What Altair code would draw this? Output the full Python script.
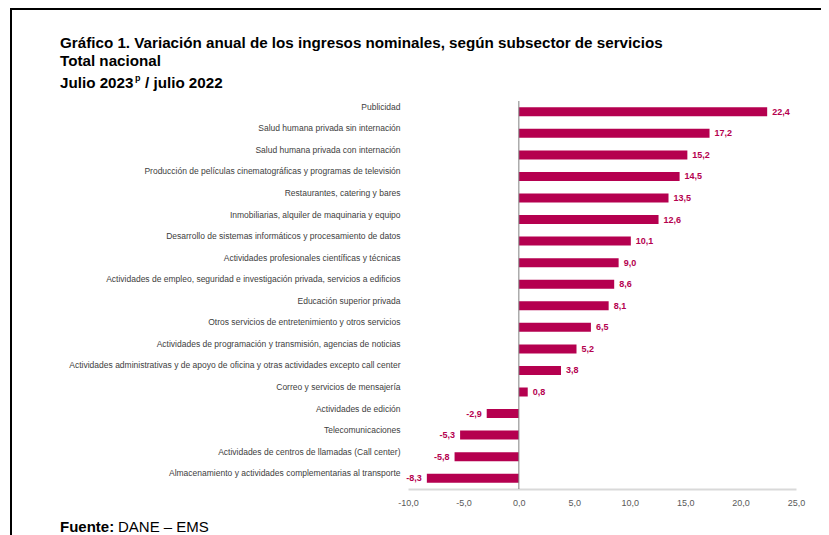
import altair as alt
import pandas as pd

categories = [
    "Publicidad",
    "Salud humana privada sin internación",
    "Salud humana privada con internación",
    "Producción de películas cinematográficas y programas de televisión",
    "Restaurantes, catering y bares",
    "Inmobiliarias, alquiler de maquinaria y equipo",
    "Desarrollo de sistemas informáticos y procesamiento de datos",
    "Actividades profesionales científicas y técnicas ",
    "Actividades de empleo, seguridad e investigación privada, servicios a edificios",
    "Educación superior privada",
    "Otros servicios de entretenimiento y otros servicios",
    "Actividades de programación y transmisión,  agencias de noticias",
    "Actividades administrativas y de apoyo de oficina y otras actividades excepto call center",
    "Correo y servicios de mensajería",
    "Actividades de edición",
    "Telecomunicaciones",
    "Actividades de centros de llamadas (Call center)",
    "Almacenamiento y actividades complementarias al transporte",
]
values = [22.4, 17.2, 15.2, 14.5, 13.5, 12.6, 10.1, 9.0, 8.6, 8.1, 6.5, 5.2, 3.8, 0.8, -2.9, -5.3, -5.8, -8.3]
x_ticks = [-10, -5, 0, 5, 10, 15, 20, 25]

title_lines = [
    "Gráfico 1. Variación anual de los ingresos nominales, según subsector de servicios",
    "Total nacional",
]
title_line3 = "Julio 2023"
title_sup = "p"
title_line3b = "/ julio 2022"
source_bold = "Fuente:"
source_rest = "DANE – EMS"

BAR = "#B5004F"
TITLE_FONT = "'Liberation Sans', sans-serif"
LABEL_FONT = "'Liberation Sans', sans-serif"

W, H = 388, 388

df = pd.DataFrame({"cat": categories, "val": values})
df["lbl"] = df["val"].map(lambda v: f"{v:.1f}".replace(".", ","))

ysc = alt.Y(
    "cat:N",
    sort=categories,
    title=None,
    axis=alt.Axis(
        domain=False, ticks=False, labelPadding=8, labelFontSize=8.5, labelOffset=-5,
        labelColor="#404040", labelFont=LABEL_FONT, labelLimit=400,
    ),
)
xsc = alt.X(
    "val:Q",
    title=None,
    scale=alt.Scale(domain=[-10, 25], nice=False),
    axis=alt.Axis(
        values=x_ticks, grid=False, ticks=False, labelFlush=False,
        labelExpr="replace(replace(format(datum.value, '.1f'), '.', ','), '\u2212', '-')",
        domainColor="#D9D9D9", domainWidth=2, labelColor="#595959",
        labelFontSize=9, labelPadding=9, labelFont=LABEL_FONT,
    ),
)

base = alt.Chart(df)
bars = base.mark_bar(color=BAR, size=9).encode(x=xsc, y=ysc)
zero = alt.Chart(pd.DataFrame({"z": [0]})).mark_rule(color="#808080", strokeWidth=1).encode(x="z:Q")
pos_lbl = base.transform_filter("datum.val >= 0").mark_text(
    align="left", dx=5, fontWeight="bold", fontSize=9, color=BAR, font=LABEL_FONT
).encode(x="val:Q", y=alt.Y("cat:N", sort=categories), text="lbl:N")
neg_lbl = base.transform_filter("datum.val < 0").mark_text(
    align="right", dx=-5, fontWeight="bold", fontSize=9, color=BAR, font=LABEL_FONT
).encode(x="val:Q", y=alt.Y("cat:N", sort=categories), text="lbl:N")


def txt(s, x, y, size=15.2, weight="bold", baseline="middle"):
    return alt.Chart(pd.DataFrame({"t": [s]})).mark_text(
        align="left", baseline=baseline, fontSize=size, fontWeight=weight,
        font=TITLE_FONT, color="#000000"
    ).encode(text="t:N", x=alt.value(x), y=alt.value(y))


TX = -348
t1 = txt(title_lines[0], TX, -58)
t2 = txt(title_lines[1], TX, -40)
t3 = txt(title_line3, TX, -18)
t3s = txt(title_sup, TX + 75, -23, size=9)
t3b = txt(title_line3b, TX + 85, -18)
s1 = txt(source_bold, TX, 426, size=15)
s2 = txt(source_rest, TX + 58, 426, size=15, weight="normal")

frame = pd.DataFrame({"a": [0]})
left_border = alt.Chart(frame).mark_rule(color="#000000", strokeWidth=2).encode(
    x=alt.value(-397), y=alt.value(-93), y2=alt.value(440)
)
top_border = alt.Chart(frame).mark_rule(color="#000000", strokeWidth=2).encode(
    x=alt.value(-398), x2=alt.value(430), y=alt.value(-92)
)

chart = alt.layer(
    left_border, top_border, bars, zero, pos_lbl, neg_lbl, t1, t2, t3, t3s, t3b, s1, s2
).properties(
    width=W, height=H,
    autosize=alt.AutoSizeParams(type="none"),
    padding={"left": 400, "top": 93, "right": 25, "bottom": 46},
).configure_view(stroke=None)

chart.save("out.html", embed_options={"renderer": "svg", "actions": False})
